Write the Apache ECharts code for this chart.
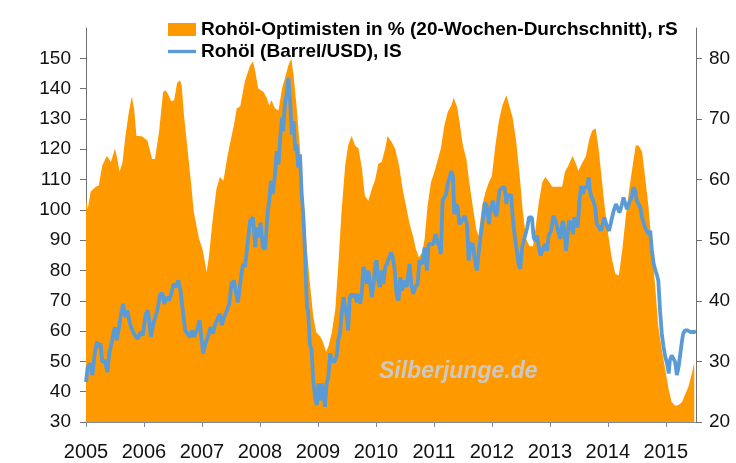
<!DOCTYPE html>
<html>
<head>
<meta charset="utf-8">
<script src="https://cdn.jsdelivr.net/npm/echarts@6/dist/echarts.min.js"></script>
<style>
  html, body { margin: 0; padding: 0; background: #fff; }
  #chart { width: 736px; height: 463px; }
</style>
</head>
<body>
<div id="chart"></div>
<script>
// Rohöl-Optimisten in % (20-Wochen-Durchschnitt), rechte Skala
const sentimentDates = [
  2005.00, 2005.03, 2005.08, 2005.17, 2005.22, 2005.28, 2005.36, 2005.43, 2005.45, 2005.50,
  2005.54, 2005.58, 2005.63, 2005.68, 2005.74, 2005.79, 2005.83, 2005.87, 2005.91, 2005.97,
  2006.06, 2006.14, 2006.19, 2006.26, 2006.33, 2006.37, 2006.41, 2006.47, 2006.52, 2006.57,
  2006.62, 2006.65, 2006.69, 2006.75, 2006.81, 2006.86, 2006.95, 2007.01, 2007.05, 2007.08,
  2007.12, 2007.18, 2007.25, 2007.31, 2007.37, 2007.44, 2007.50, 2007.55, 2007.60, 2007.66,
  2007.71, 2007.74, 2007.83, 2007.88, 2007.92, 2007.97, 2008.06, 2008.12, 2008.16, 2008.20,
  2008.26, 2008.32, 2008.38, 2008.43, 2008.49, 2008.54, 2008.58, 2008.63, 2008.69, 2008.75,
  2008.81, 2008.86, 2008.92, 2008.97, 2009.04, 2009.09, 2009.14, 2009.18, 2009.24, 2009.30,
  2009.35, 2009.41, 2009.47, 2009.52, 2009.58, 2009.64, 2009.70, 2009.76, 2009.81, 2009.87,
  2009.93, 2009.99, 2010.04, 2010.10, 2010.16, 2010.20, 2010.27, 2010.33, 2010.40, 2010.46,
  2010.52, 2010.58, 2010.64, 2010.69, 2010.74, 2010.80, 2010.84, 2010.89, 2010.95, 2011.01,
  2011.07, 2011.12, 2011.18, 2011.24, 2011.30, 2011.34, 2011.40, 2011.44, 2011.50, 2011.56,
  2011.61, 2011.67, 2011.73, 2011.77, 2011.83, 2011.89, 2011.95, 2012.00, 2012.06, 2012.12,
  2012.18, 2012.25, 2012.30, 2012.36, 2012.42, 2012.48, 2012.53, 2012.59, 2012.65, 2012.71,
  2012.75, 2012.81, 2012.87, 2012.92, 2012.98, 2013.04, 2013.12, 2013.21, 2013.26, 2013.32,
  2013.39, 2013.45, 2013.49, 2013.55, 2013.62, 2013.68, 2013.73, 2013.79, 2013.84, 2013.90,
  2013.95, 2014.01, 2014.07, 2014.13, 2014.19, 2014.25, 2014.31, 2014.37, 2014.42, 2014.48,
  2014.53, 2014.59, 2014.64, 2014.70, 2014.76, 2014.82, 2014.87, 2014.93, 2014.99, 2015.05,
  2015.10, 2015.16, 2015.22, 2015.28, 2015.33, 2015.39, 2015.45, 2015.49
];
const sentimentValues = [
  56.8, 55.1, 58.0, 58.8, 59.0, 62.3, 63.9, 62.9, 62.6, 65.1,
  63.4, 61.3, 62.9, 67.2, 71.2, 73.7, 71.7, 67.2, 67.2, 67.1,
  66.4, 63.4, 63.4, 67.9, 74.5, 74.7, 74.2, 72.9, 73.1, 75.9,
  76.4, 75.5, 70.6, 65.1, 59.6, 54.6, 50.2, 48.5, 46.4, 44.7,
  47.3, 53.0, 58.5, 60.4, 59.8, 63.9, 66.7, 68.9, 71.7, 72.1,
  74.7, 76.2, 78.8, 79.5, 77.8, 75.0, 74.5, 73.4, 72.2, 73.1,
  71.7, 71.4, 75.0, 76.7, 78.8, 80.0, 77.2, 72.2, 65.1, 56.8,
  48.5, 43.0, 37.4, 34.8, 34.1, 33.1, 31.6, 32.4, 34.8, 38.6,
  45.7, 55.1, 62.3, 65.6, 67.2, 65.6, 65.1, 61.8, 57.3, 56.5,
  58.5, 60.1, 62.6, 62.9, 65.1, 67.2, 66.2, 65.1, 62.3, 58.5,
  55.6, 52.7, 50.7, 48.5, 47.2, 48.0, 50.2, 55.6, 59.6, 61.3,
  63.4, 65.1, 68.9, 71.2, 72.2, 73.5, 72.0, 69.6, 65.6, 63.4,
  59.6, 55.6, 51.8, 50.7, 55.6, 58.0, 59.6, 60.6, 65.6, 69.6,
  72.2, 73.9, 72.2, 70.1, 66.2, 60.6, 55.1, 50.2, 49.0, 49.0,
  51.8, 56.3, 59.6, 60.4, 59.7, 58.8, 58.8, 58.8, 61.3, 62.3,
  63.9, 62.6, 61.4, 62.6, 63.8, 66.7, 68.1, 68.4, 65.1, 59.6,
  55.1, 50.7, 46.9, 44.4, 44.2, 48.5, 54.0, 58.5, 61.8, 65.6,
  65.6, 64.6, 60.6, 55.6, 48.5, 41.9, 35.7, 31.9, 28.6, 25.3,
  23.3, 22.7, 22.8, 23.3, 24.5, 25.8, 28.1, 29.8
];

// Rohöl (Barrel/USD), linke Skala
const oilDates = [
  2005.00, 2005.03, 2005.08, 2005.11, 2005.15, 2005.19, 2005.22, 2005.25, 2005.28, 2005.32,
  2005.37, 2005.40, 2005.44, 2005.47, 2005.50, 2005.53, 2005.57, 2005.60, 2005.64, 2005.68,
  2005.71, 2005.76, 2005.80, 2005.86, 2005.90, 2005.94, 2005.98, 2006.03, 2006.07, 2006.12,
  2006.16, 2006.19, 2006.23, 2006.28, 2006.32, 2006.35, 2006.39, 2006.43, 2006.47, 2006.51,
  2006.55, 2006.59, 2006.63, 2006.67, 2006.71, 2006.75, 2006.79, 2006.83, 2006.86, 2006.91,
  2006.96, 2006.99, 2007.02, 2007.06, 2007.10, 2007.15, 2007.19, 2007.23, 2007.26, 2007.31,
  2007.34, 2007.38, 2007.43, 2007.47, 2007.51, 2007.55, 2007.59, 2007.62, 2007.66, 2007.69,
  2007.71, 2007.74, 2007.78, 2007.83, 2007.88, 2007.92, 2007.94, 2007.98, 2008.01, 2008.05,
  2008.09, 2008.13, 2008.16, 2008.19, 2008.22, 2008.26, 2008.29, 2008.32, 2008.35, 2008.38,
  2008.40, 2008.43, 2008.46, 2008.49, 2008.52, 2008.55, 2008.58, 2008.61, 2008.63, 2008.66,
  2008.69, 2008.72, 2008.75, 2008.78, 2008.81, 2008.83, 2008.86, 2008.89, 2008.92, 2008.95,
  2008.98, 2009.01, 2009.04, 2009.07, 2009.09, 2009.12, 2009.15, 2009.18, 2009.21, 2009.24,
  2009.28, 2009.32, 2009.35, 2009.38, 2009.41, 2009.44, 2009.47, 2009.50, 2009.52, 2009.55,
  2009.58, 2009.61, 2009.64, 2009.67, 2009.70, 2009.73, 2009.76, 2009.78, 2009.81, 2009.84,
  2009.87, 2009.90, 2009.93, 2009.96, 2009.99, 2010.01, 2010.04, 2010.07, 2010.10, 2010.13,
  2010.16, 2010.19, 2010.21, 2010.26, 2010.29, 2010.32, 2010.36, 2010.39, 2010.42, 2010.45,
  2010.49, 2010.53, 2010.58, 2010.61, 2010.64, 2010.68, 2010.72, 2010.75, 2010.80, 2010.84,
  2010.88, 2010.91, 2010.95, 2010.99, 2011.03, 2011.06, 2011.10, 2011.12, 2011.15, 2011.18,
  2011.21, 2011.24, 2011.27, 2011.30, 2011.33, 2011.35, 2011.38, 2011.41, 2011.44, 2011.48,
  2011.53, 2011.57, 2011.60, 2011.63, 2011.67, 2011.70, 2011.74, 2011.77, 2011.81, 2011.85,
  2011.88, 2011.91, 2011.95, 2011.97, 2012.02, 2012.04, 2012.08, 2012.13, 2012.18, 2012.22,
  2012.25, 2012.27, 2012.30, 2012.33, 2012.36, 2012.39, 2012.43, 2012.46, 2012.49, 2012.52,
  2012.55, 2012.58, 2012.61, 2012.64, 2012.66, 2012.69, 2012.72, 2012.75, 2012.78, 2012.81,
  2012.84, 2012.87, 2012.90, 2012.92, 2012.95, 2012.98, 2013.02, 2013.06, 2013.10, 2013.14,
  2013.18, 2013.22, 2013.25, 2013.28, 2013.30, 2013.33, 2013.37, 2013.40, 2013.42, 2013.45,
  2013.48, 2013.51, 2013.54, 2013.57, 2013.60, 2013.64, 2013.67, 2013.69, 2013.72, 2013.75,
  2013.78, 2013.81, 2013.85, 2013.88, 2013.91, 2013.94, 2013.97, 2013.99, 2014.02, 2014.06,
  2014.10, 2014.14, 2014.17, 2014.20, 2014.23, 2014.27, 2014.30, 2014.33, 2014.36, 2014.38,
  2014.41, 2014.44, 2014.47, 2014.50, 2014.53, 2014.56, 2014.59, 2014.61, 2014.64, 2014.67,
  2014.70, 2014.73, 2014.76, 2014.79, 2014.82, 2014.84, 2014.87, 2014.90, 2014.93, 2014.96,
  2014.99, 2015.02, 2015.05, 2015.07, 2015.10, 2015.13, 2015.16, 2015.19, 2015.22, 2015.25,
  2015.28, 2015.30, 2015.33, 2015.38, 2015.42, 2015.45, 2015.49, 2015.52
];
const oilPrices = [
  43.2, 48.2, 49.3, 45.5, 52.6, 56.4, 54.8, 55.9, 49.8, 50.4,
  46.5, 52.6, 55.9, 59.2, 61.3, 57.0, 61.3, 65.2, 69.0, 64.6,
  66.8, 62.4, 60.2, 58.0, 57.5, 59.7, 58.6, 65.7, 66.8, 58.0,
  62.4, 61.9, 66.8, 72.3, 72.3, 69.0, 71.2, 70.1, 72.3, 75.6,
  74.5, 76.7, 73.4, 66.8, 60.2, 59.2, 58.0, 60.2, 58.0, 60.2,
  63.5, 58.0, 52.6, 55.9, 58.0, 61.3, 59.2, 62.4, 62.4, 65.7,
  61.9, 64.6, 66.8, 69.0, 75.6, 76.7, 72.3, 69.5, 75.6, 80.0,
  82.2, 81.1, 87.6, 96.4, 97.5, 87.6, 94.2, 90.9, 95.8, 87.6,
  87.1, 98.6, 103.0, 109.6, 105.2, 111.8, 119.4, 115.0, 123.8, 130.4,
  126.0, 134.8, 138.1, 143.5, 135.9, 124.9, 129.3, 119.4, 121.6, 113.9,
  118.3, 105.2, 97.5, 84.3, 67.9, 66.8, 55.9, 53.7, 43.8, 38.3,
  35.6, 42.7, 37.2, 42.7, 40.5, 35.0, 42.7, 44.9, 52.6, 50.4,
  49.8, 51.5, 57.0, 59.2, 65.7, 71.2, 70.7, 64.6, 60.2, 71.2,
  72.3, 71.2, 72.3, 69.5, 72.3, 69.0, 73.4, 81.1, 80.0, 75.6,
  80.0, 80.0, 71.2, 75.6, 82.2, 83.3, 76.7, 74.5, 80.0, 75.6,
  81.1, 82.2, 83.3, 86.0, 84.3, 81.1, 71.2, 70.1, 77.8, 73.4,
  76.7, 74.5, 82.2, 75.6, 72.3, 74.5, 75.6, 83.3, 82.2, 87.6,
  80.0, 88.7, 88.7, 88.7, 92.0, 89.8, 87.6, 85.4, 103.0, 104.1,
  105.2, 108.5, 110.7, 112.8, 110.7, 98.6, 101.9, 100.8, 95.3, 96.4,
  98.0, 95.3, 83.3, 88.7, 88.7, 84.3, 80.0, 85.4, 92.0, 97.5,
  102.4, 101.3, 95.3, 99.7, 103.0, 99.7, 98.0, 106.3, 107.4, 107.4,
  101.9, 105.2, 104.1, 105.2, 97.5, 92.0, 86.5, 82.2, 80.5, 87.6,
  89.8, 89.8, 94.2, 97.5, 97.5, 97.5, 90.9, 89.8, 91.5, 87.6,
  84.9, 86.5, 87.1, 88.7, 86.5, 91.5, 93.1, 98.0, 96.4, 93.1,
  90.4, 96.4, 93.1, 86.5, 86.5, 96.4, 95.3, 92.0, 97.5, 98.0,
  94.2, 103.0, 107.9, 105.2, 107.4, 107.4, 110.7, 106.3, 104.1, 103.0,
  100.8, 95.3, 94.2, 93.1, 92.6, 97.5, 97.5, 94.2, 93.1, 96.4,
  99.7, 101.9, 102.4, 99.1, 100.8, 104.1, 104.1, 100.2, 99.7, 103.0,
  104.1, 107.4, 106.3, 103.0, 101.9, 100.8, 97.5, 97.5, 94.2, 94.8,
  92.0, 93.1, 86.5, 82.2, 80.0, 78.9, 76.7, 66.8, 59.2, 54.8,
  51.5, 49.3, 46.0, 50.4, 52.0, 50.9, 49.8, 45.5, 48.2, 52.6,
  57.0, 59.2, 60.2, 60.2, 59.7, 60.2, 59.7, 59.9
];

// tick labels
const yearTicks = [2005, 2006, 2007, 2008, 2009, 2010, 2011, 2012, 2013, 2014, 2015];
const leftTicks = [30, 40, 50, 60, 70, 80, 90, 100, 110, 120, 130, 140, 150];
const rightTicks = [20, 30, 40, 50, 60, 70, 80];

const FONT = '"Liberation Sans", Arial, sans-serif';
const axisGrey = '#707070';
const xAxisGrey = '#7d8aa5';
const orange = '#ff9900';
const blue = '#5b9bd5';

const nameOptimists = 'Rohöl-Optimisten in % (20-Wochen-Durchschnitt), rS';
const nameOil = 'Rohöl (Barrel/USD), IS';

const chart = echarts.init(document.getElementById('chart'), null, { renderer: 'canvas' });

const option = {
  backgroundColor: '#ffffff',
  animation: false,
  textStyle: { fontFamily: FONT },
  grid: { left: 86, right: 40, top: 28, bottom: 41, outerBoundsMode: 'none' },
  legend: {
    orient: 'vertical',
    left: 168,
    top: 20,
    padding: 0,
    itemWidth: 28,
    itemHeight: 13,
    itemGap: 3,
    selectedMode: false,
    textStyle: { fontFamily: FONT, fontSize: 19, fontWeight: 'bold', color: '#000', lineHeight: 19 },
    data: [
      { name: nameOptimists, icon: 'rect' },
      { name: nameOil, icon: 'path://M0,0L30,0L30,3.6L0,3.6Z' }
    ]
  },
  xAxis: {
    type: 'value',
    min: 2005,
    max: 2015.52,
    splitLine: { show: false },
    axisLine: { lineStyle: { color: xAxisGrey, width: 1 } },
    axisTick: { length: 5, customValues: yearTicks, lineStyle: { color: xAxisGrey } },
    axisLabel: {
      margin: 20,
      fontSize: 20,
      color: '#111',
      customValues: yearTicks,
      formatter: v => String(v)
    }
  },
  yAxis: [
    {
      type: 'value',
      min: 30,
      max: 160,
      splitLine: { show: false },
      axisLine: { show: true, lineStyle: { color: axisGrey } },
      axisTick: { show: true, length: 6, customValues: leftTicks, lineStyle: { color: axisGrey } },
      axisLabel: { margin: 15, fontSize: 19, color: '#111', customValues: leftTicks }
    },
    {
      type: 'value',
      min: 20,
      max: 85,
      position: 'right',
      splitLine: { show: false },
      axisLine: { show: true, lineStyle: { color: axisGrey } },
      axisTick: { show: true, length: 6, customValues: rightTicks, lineStyle: { color: axisGrey } },
      axisLabel: { margin: 13, fontSize: 19, color: '#111', customValues: rightTicks }
    }
  ],
  graphic: [
    {
      type: 'text',
      left: 379,
      top: 360,
      z: 10,
      style: {
        text: 'Silberjunge.de',
        font: 'italic bold 23px ' + FONT,
        fill: '#cdc8c1'
      }
    }
  ],
  series: [
    {
      name: nameOptimists,
      type: 'line',
      yAxisIndex: 1,
      symbol: 'none',
      z: 1,
      color: orange,
      lineStyle: { width: 0, color: orange },
      itemStyle: { color: orange },
      areaStyle: { color: orange, opacity: 1 },
      data: sentimentDates.map((d, i) => [d, sentimentValues[i]])
    },
    {
      name: nameOil,
      type: 'line',
      yAxisIndex: 0,
      symbol: 'none',
      z: 3,
      color: blue,
      itemStyle: { color: blue },
      lineStyle: { width: 3.8, color: blue },
      data: oilDates.map((d, i) => [d, oilPrices[i]])
    }
  ]
};

chart.setOption(option);
window.addEventListener('resize', () => chart.resize());
</script>
</body>
</html>
